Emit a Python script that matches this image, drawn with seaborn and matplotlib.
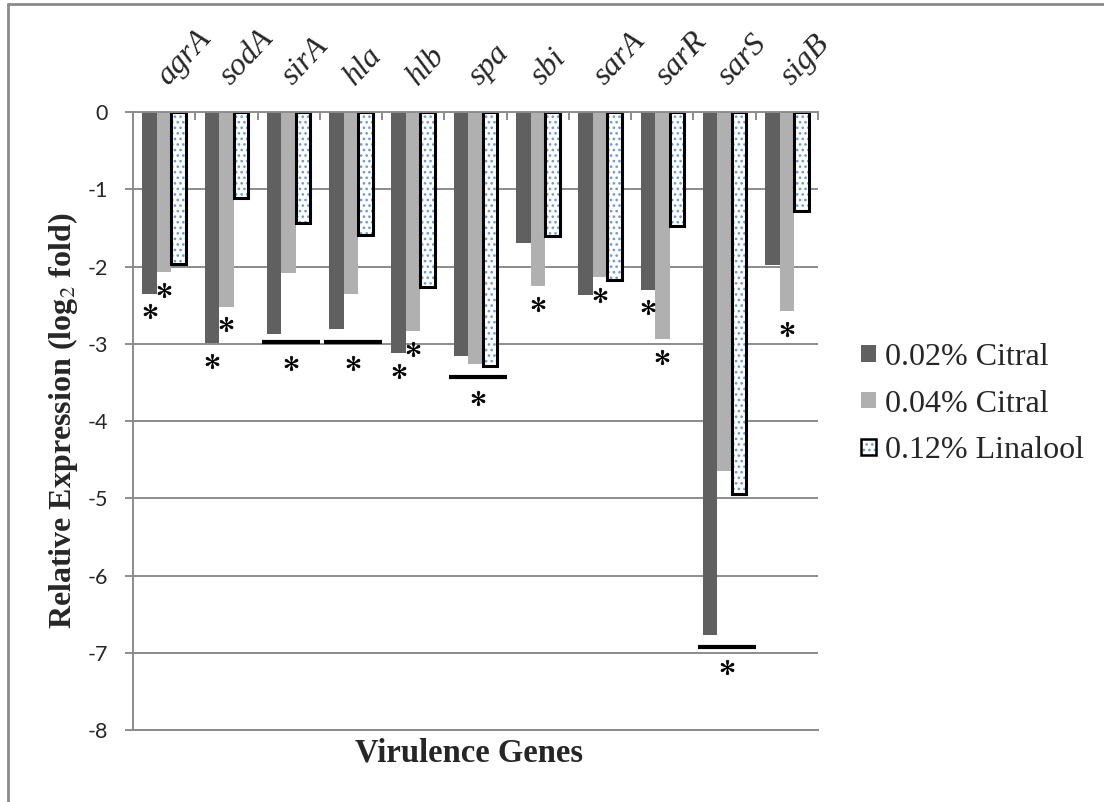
import matplotlib
matplotlib.use('Agg')
import matplotlib.pyplot as plt
import seaborn as sns
import pandas as pd
import numpy as np
from matplotlib.patches import Patch, Rectangle
from matplotlib.lines import Line2D

# ---------------- data ----------------
genes = ['agrA', 'sodA', 'sirA', 'hla', 'hlb', 'spa', 'sbi', 'sarA', 'sarR', 'sarS', 'sigB']
treatments = ['0.02% Citral', '0.04% Citral', '0.12% Linalool']
citral_002 = [-2.35, -2.99, -2.87, -2.81, -3.12, -3.16, -1.69, -2.37, -2.30, -6.77, -1.98]
citral_004 = [-2.07, -2.52, -2.08, -2.35, -2.84, -3.26, -2.25, -2.14, -2.94, -4.65, -2.58]
linalool_012 = [-1.97, -1.11, -1.44, -1.59, -2.27, -3.29, -1.61, -2.17, -1.48, -4.95, -1.28]
# significance flags (asterisk under an individual bar)
sig_citral_002 = ['agrA', 'sodA', 'hlb', 'sarR']
sig_citral_004 = ['agrA', 'sodA', 'hlb', 'sbi', 'sarA', 'sarR', 'sigB']
# significance for all three treatments (bar + asterisk under the group)
group_sig_genes = ['sirA', 'hla', 'spa', 'sarS']
group_sig_level = [-2.98, -2.98, -3.43, -6.92]
yticks = list(range(-8, 1))

colors = {'0.02% Citral': '#606060', '0.04% Citral': '#b0b0b0', '0.12% Linalool': 'white'}
dot_color = '#6a9ad6'
grid_color = '#8c8c8c'

# ---------------- figure ----------------
sns.set_theme(style='white')
plt.rcParams['font.family'] = ['Liberation Serif', 'DejaVu Serif']
plt.rcParams['mathtext.fontset'] = 'stix'
plt.rcParams['hatch.linewidth'] = 1.1

fig = plt.figure(figsize=(11.04, 8.02), dpi=100)
ax = fig.add_axes([133 / 1104, 1 - 730 / 802, (818 - 133) / 1104, 618 / 802])

df = pd.DataFrame({
    'gene': genes * 3,
    'value': citral_002 + citral_004 + linalool_012,
    'treatment': [treatments[0]] * len(genes) + [treatments[1]] * len(genes) + [treatments[2]] * len(genes),
})

sns.barplot(data=df, x='gene', y='value', hue='treatment', order=genes, hue_order=treatments,
            palette=colors, width=0.7, saturation=1, linewidth=0, errorbar=None,
            legend=False, ax=ax, zorder=2)

# linalool bars: dotted fill with black outline
for bar in ax.containers[2]:
    bar.set_facecolor('white')
    bar.set_edgecolor(dot_color)
    bar.set_hatch('...')
    bar.set_linewidth(0)
    ax.add_patch(Rectangle(bar.get_xy(), bar.get_width(), bar.get_height(), fill=False,
                           edgecolor='black', lw=2.2, zorder=bar.get_zorder() + 0.1))

# asterisks under individual bars
ast_off = 0.23
for cont, vals, sig in [(ax.containers[0], citral_002, sig_citral_002),
                        (ax.containers[1], citral_004, sig_citral_004)]:
    for bar, g, v in zip(cont, genes, vals):
        if g in sig:
            ax.plot(bar.get_x() + bar.get_width() / 2, v - ast_off, ls='none',
                    marker='$*$', ms=10.5, color='black', mew=0.5, zorder=5)

# group significance lines
gx = np.array([genes.index(g) for g in group_sig_genes], dtype=float)
ax.hlines(group_sig_level, gx - 0.43, gx + 0.5, color='black', lw=3, zorder=5)
ax.plot(gx + 0.035, np.array(group_sig_level) - 0.27, ls='none', marker='$*$', ms=10.5,
        color='black', mew=0.5, zorder=5)

# axes styling
ax.set_ylim(-8, 0)
ax.set_xlim(-0.5, len(genes) - 0.5)
ax.set_yticks(yticks)
ax.set_yticklabels([str(t) for t in yticks])
ax.yaxis.grid(True, color=grid_color, lw=1.4)
ax.xaxis.grid(False)
ax.set_axisbelow(True)
for s in ['top', 'left', 'bottom']:
    ax.spines[s].set_color(grid_color)
    ax.spines[s].set_linewidth(1.4)
ax.spines['right'].set_visible(False)

ax.tick_params(axis='y', direction='out', length=6, color=grid_color, width=1.4, pad=12,
               labelsize=15.5, left=True)
for lbl in ax.get_yticklabels():
    lbl.set_fontfamily(['Lato', 'DejaVu Sans'])

# category axis: boundary ticks at top, gene names rotated above
ax.xaxis.tick_top()
ax.set_xticks(range(len(genes)))
ax.set_xticklabels([])
ax.set_xticks(np.arange(-0.5, len(genes), 1), minor=True)
ax.tick_params(axis='x', which='major', length=0, top=True, bottom=False)
ax.tick_params(axis='x', which='minor', direction='in', length=6, color=grid_color,
               width=1.4, top=True, bottom=False)
for i, g in enumerate(genes):
    ax.annotate(g, xy=(i, 1), xycoords=('data', 'axes fraction'), xytext=(3, 18.5),
                textcoords='offset points', rotation=47, ha='left', va='baseline',
                rotation_mode='anchor', fontstyle='italic', fontsize=23)

ax.set_ylabel('Relative Expression (log$_2$ fold)', fontweight='bold', fontsize=23)
ax.yaxis.set_label_coords(-0.077, 0.5)
ax.set_xlabel('Virulence Genes', fontweight='bold', fontsize=23.5)
ax.xaxis.set_label_position('bottom')
ax.xaxis.set_label_coords(0.49, -0.012)

# legend
handles = [Patch(facecolor=colors[treatments[0]], lw=0),
           Patch(facecolor=colors[treatments[1]], lw=0),
           (Patch(facecolor='white', edgecolor=dot_color, hatch='...', lw=0),
            Patch(fill=False, edgecolor='black', lw=1.8))]
fig.legend(handles, treatments, loc='center left', bbox_to_anchor=(861 / 1104, 1 - 404 / 802),
           frameon=False, fontsize=23, handlelength=0.46, handleheight=0.4,
           handletextpad=0.3, labelspacing=0.55, borderpad=0, borderaxespad=0)

# outer chart border (partly cropped in the reference)
fig.add_artist(Line2D([8 / 1104, 8 / 1104], [0, 1 - 4 / 802], transform=fig.transFigure,
                      color='#8a8a8a', lw=2))
fig.add_artist(Line2D([8 / 1104, 1], [1 - 4 / 802, 1 - 4 / 802], transform=fig.transFigure,
                      color='#8a8a8a', lw=2))

fig.savefig('out.png', dpi=100)
